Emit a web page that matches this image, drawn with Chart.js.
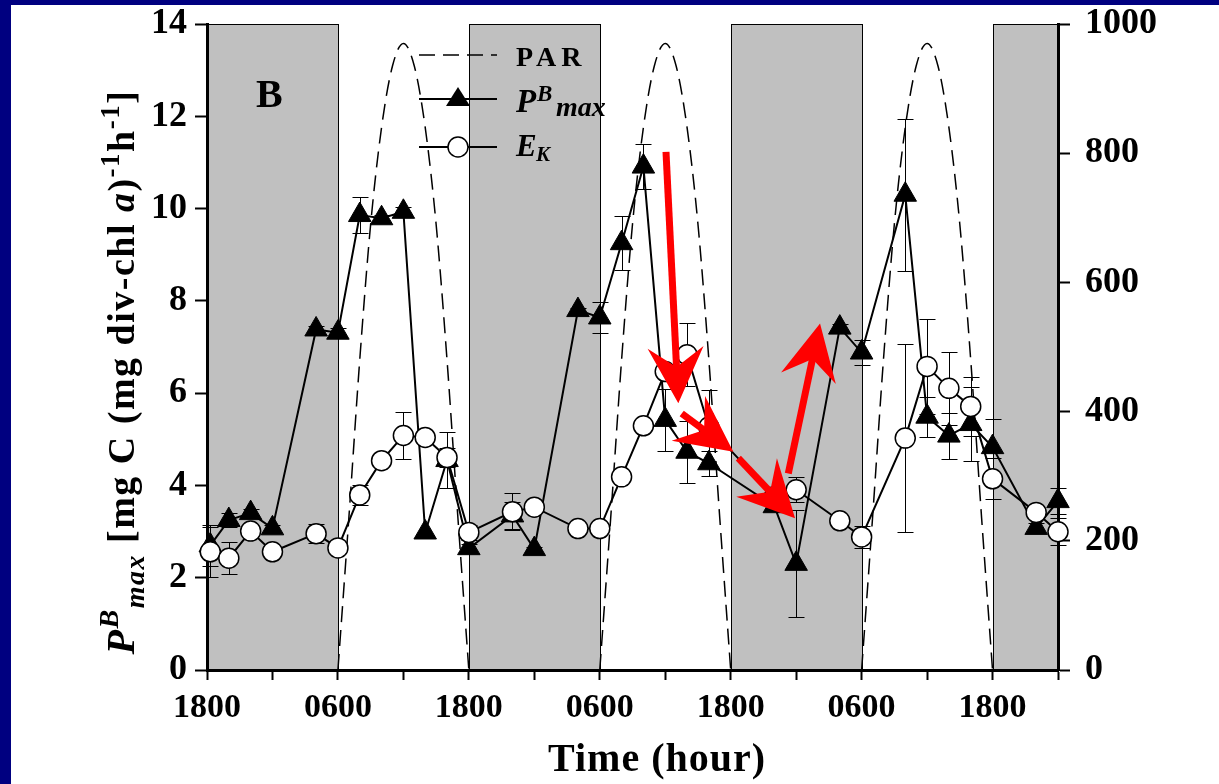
<!DOCTYPE html>
<html>
<head>
<meta charset="utf-8">
<script src="https://cdn.jsdelivr.net/npm/chart.js@4.4.0/dist/chart.umd.min.js"></script>
<style>
  html, body { margin: 0; padding: 0; background: #fff; }
  #wrap { position: relative; width: 1219px; height: 784px; overflow: hidden; background: #fff; }
  #wrap canvas { position: absolute; left: 0; top: 0; }
  .navy { position: absolute; background: #000080; }
</style>
</head>
<body>
<div id="wrap">
  <canvas id="chart" width="1219" height="784"></canvas>
  <div class="navy" style="left:0;top:0;width:11px;height:784px"></div>
  <div class="navy" style="left:0;top:0;width:1219px;height:5px"></div>
</div>
<script>
const SERIF = '"Liberation Serif", "Times New Roman", serif';

// sampling times, hours after the first 1800
const sampleHours = [0.3, 2, 4, 6, 10, 12, 14, 16, 18, 20, 22, 24, 28, 30, 34, 36, 38, 40, 42, 44, 46, 52, 54, 58, 60, 64, 66, 68, 70, 72, 76, 78];
// P^B_max, mg C (mg div-chl a)^-1 h^-1 (left axis)
const pbMax    = [2.70, 3.25, 3.40, 3.07, 7.38, 7.31, 9.86, 9.79, 9.93, 2.98, 4.55, 2.64, 3.35, 2.62, 7.80, 7.64, 9.25, 10.91, 5.42, 4.73, 4.48, 3.55, 2.30, 7.42, 6.88, 10.30, 5.49, 5.08, 5.33, 4.83, 3.08, 3.66];
const pbMaxErr = [0.45, 0.15, 0.10, 0.08, 0.08, 0.10, 0.40, 0.08, 0.10, 0, 0.60, 0.10, 0.30, 0.05, 0.05, 0.33, 0.58, 0.48, 0.68, 0.67, 0.27, 0.10, 1.16, 0.08, 0.28, 1.65, 0.43, 0.50, 0.80, 0.60, 0.10, 0.28];
// E_K (right axis)
const ekValues = [183, 173, 215, 183, 211, 189, 271, 324, 363, 360, 329, 213, 245, 252, 219, 219, 299, 378, 462, 488, 376, 268, 279, 231, 206, 359, 470, 436, 408, 296, 244, 214];
const ekErr    = [39, 25, 0, 0, 15, 0, 16, 0, 37, 0, 14, 11, 29, 0, 0, 0, 0, 0, 0, 49, 58, 0, 19, 0, 17, 146, 73, 56, 46, 32, 0, 21];

// PAR during daylight (right axis)
const parHours  = [12, 13, 14, 15, 16, 17, 18, 19, 20, 21, 22, 23, 24,
                   36, 37, 38, 39, 40, 41, 42, 43, 44, 45, 46, 47, 48,
                   60, 61, 62, 63, 64, 65, 66, 67, 68, 69, 70, 71, 72];
const parValues = [0, 235, 480, 690, 840, 935, 970, 935, 840, 690, 480, 235, 0,
                   0, 235, 480, 690, 840, 935, 970, 935, 840, 690, 480, 235, 0,
                   0, 235, 480, 690, 840, 935, 970, 935, 840, 690, 480, 235, 0];

// dark periods
const nightStart = [0, 24, 48, 72];
const nightEnd   = [12, 36, 60, 78];

const xTickLabels = ['1800', '0600', '1800', '0600', '1800', '0600', '1800'];

// red annotation arrows, [hour, left-axis value]
const arrowFrom = [[42.07, 11.23], [43.51, 5.56], [48.70, 4.59], [53.28, 4.26]];
const arrowTo   = [[43.20, 5.78], [48.24, 4.73], [53.90, 3.29], [56.19, 7.51]];

const yTitleParts = [
  { t: 'P', size: 40, style: 'italic', dy: 0 },
  { t: 'B', size: 28, style: 'italic', dy: -16 },
  { t: 'max', size: 28, style: 'italic', dy: 10 },
  { t: ' [mg C (mg div-chl ', size: 38, style: '', dy: 0 },
  { t: 'a', size: 38, style: 'italic', dy: 0 },
  { t: ')', size: 38, style: '', dy: 0 },
  { t: '-1', size: 27, style: '', dy: -15 },
  { t: 'h', size: 38, style: '', dy: 0 },
  { t: '-1', size: 27, style: '', dy: -15 },
  { t: ']', size: 38, style: '', dy: 0 }
];

function pts(xs, ys) {
  const out = [];
  xs.forEach((h, i) => {
    if (i > 0 && h - xs[i - 1] > 1) out.push({ x: (h + xs[i - 1]) / 2, y: null });
    out.push({ x: h, y: ys[i] });
  });
  return out;
}

function drawRich(ctx, parts, x, y) {
  let total = 0;
  parts.forEach(p => {
    ctx.font = `${p.style} bold ${p.size}px ${SERIF}`;
    p.w = ctx.measureText(p.t).width;
    total += p.w;
  });
  let cx = x - total / 2;
  parts.forEach(p => {
    ctx.font = `${p.style} bold ${p.size}px ${SERIF}`;
    ctx.fillText(p.t, cx, y + p.dy);
    cx += p.w;
  });
}

const backdrop = {
  id: 'backdrop',
  beforeDraw(chart) {
    const { ctx, chartArea: a, scales: { x } } = chart;
    ctx.save();
    nightStart.forEach((h, i) => {
      const x0 = Math.round(x.getPixelForValue(h));
      const x1 = Math.round(x.getPixelForValue(nightEnd[i]));
      ctx.fillStyle = '#c0c0c0';
      ctx.fillRect(x0, a.top, x1 - x0, a.bottom - a.top);
      ctx.strokeStyle = '#000';
      ctx.lineWidth = 1;
      ctx.strokeRect(x0 + 0.5, Math.round(a.top) + 0.5, x1 - x0, Math.round(a.bottom - a.top));
    });
    ctx.restore();
  }
};

const errorBars = {
  id: 'errorBars',
  beforeDatasetsDraw(chart) {
    const { ctx, scales } = chart;
    ctx.save();
    ctx.strokeStyle = '#000';
    ctx.lineWidth = 1;
    const draw = (vals, errs, ys) => {
      sampleHours.forEach((h, i) => {
        if (!errs[i]) return;
        const px = Math.round(scales.x.getPixelForValue(h)) + 0.5;
        const top = Math.round(ys.getPixelForValue(vals[i] + errs[i])) + 0.5;
        const bot = Math.round(ys.getPixelForValue(vals[i] - errs[i])) + 0.5;
        ctx.beginPath();
        ctx.moveTo(px, top); ctx.lineTo(px, bot);
        ctx.moveTo(px - 8, top); ctx.lineTo(px + 8, top);
        ctx.moveTo(px - 8, bot); ctx.lineTo(px + 8, bot);
        ctx.stroke();
      });
    };
    draw(pbMax, pbMaxErr, scales.y);
    draw(ekValues, ekErr, scales.y1);
    ctx.restore();
  }
};

const arrows = {
  id: 'arrows',
  afterDatasetsDraw(chart) {
    const { ctx, scales: { x, y } } = chart;
    ctx.save();
    ctx.fillStyle = '#ff0000';
    ctx.strokeStyle = '#ff0000';
    arrowFrom.forEach((f, i) => {
      const x0 = x.getPixelForValue(f[0]), y0 = y.getPixelForValue(f[1]);
      const x1 = x.getPixelForValue(arrowTo[i][0]), y1 = y.getPixelForValue(arrowTo[i][1]);
      const len = Math.hypot(x1 - x0, y1 - y0);
      const ux = (x1 - x0) / len, uy = (y1 - y0) / len;
      const L = 56, W = 28;
      ctx.lineWidth = 7;
      ctx.beginPath();
      ctx.moveTo(x0, y0);
      ctx.lineTo(x1 - ux * L * 0.6, y1 - uy * L * 0.6);
      ctx.stroke();
      const bx = x1 - ux * L, by = y1 - uy * L;
      const nx = x1 - ux * L * 0.65, ny = y1 - uy * L * 0.65;
      ctx.beginPath();
      ctx.moveTo(x1, y1);
      ctx.lineTo(bx - uy * W, by + ux * W);
      ctx.lineTo(nx, ny);
      ctx.lineTo(bx + uy * W, by - ux * W);
      ctx.closePath();
      ctx.fill();
    });
    ctx.restore();
  }
};

const annotations = {
  id: 'annotations',
  afterDraw(chart) {
    const { ctx, chartArea: a } = chart;
    ctx.save();
    ctx.fillStyle = '#000';
    ctx.strokeStyle = '#000';
    ctx.textBaseline = 'alphabetic';

    // panel letter
    ctx.font = `bold 40px ${SERIF}`;
    ctx.fillText('B', a.left + 49, 107);

    // legend
    const lx0 = a.left + 212, lx1 = a.left + 290, mx = a.left + 251, tx = a.left + 309;
    ctx.lineWidth = 1.5;
    ctx.setLineDash([16, 8]);
    ctx.beginPath(); ctx.moveTo(lx0, 55); ctx.lineTo(lx1, 55); ctx.stroke();
    ctx.setLineDash([]);
    ctx.font = `bold 28px ${SERIF}`;
    ctx.letterSpacing = '5px';
    ctx.fillText('PAR', tx, 66);
    ctx.letterSpacing = '0px';

    ctx.lineWidth = 2;
    ctx.beginPath(); ctx.moveTo(lx0, 99); ctx.lineTo(lx1, 99); ctx.stroke();
    ctx.beginPath();
    ctx.moveTo(mx, 87); ctx.lineTo(mx + 12, 106); ctx.lineTo(mx - 12, 106); ctx.closePath();
    ctx.fill();
    ctx.font = `italic bold 33px ${SERIF}`;
    ctx.fillText('P', tx, 112);
    ctx.font = `italic bold 23px ${SERIF}`;
    ctx.fillText('B', tx + 21, 101);
    ctx.font = `italic bold 28px ${SERIF}`;
    ctx.fillText('max', tx + 40, 116);

    ctx.beginPath(); ctx.moveTo(lx0, 147); ctx.lineTo(lx1, 147); ctx.stroke();
    ctx.beginPath(); ctx.arc(mx, 147, 10, 0, Math.PI * 2);
    ctx.fillStyle = '#fff'; ctx.fill();
    ctx.lineWidth = 1.5; ctx.stroke();
    ctx.fillStyle = '#000';
    ctx.font = `italic bold 31px ${SERIF}`;
    ctx.fillText('E', tx, 156);
    ctx.font = `italic bold 21px ${SERIF}`;
    ctx.fillText('K', tx + 20, 161);

    // x title
    ctx.font = `bold 40px ${SERIF}`;
    ctx.textAlign = 'center';
    ctx.letterSpacing = '1px';
    ctx.fillText('Time (hour)', 657, 771);
    ctx.letterSpacing = '0px';
    ctx.textAlign = 'left';

    // y title
    ctx.translate(134, 372);
    ctx.rotate(-Math.PI / 2);
    ctx.letterSpacing = '1.5px';
    drawRich(ctx, yTitleParts, 0, 0);
    ctx.restore();
  }
};

const tickFont = { family: SERIF, size: 36, weight: 'bold', lineHeight: 0.5 };

new Chart(document.getElementById('chart'), {
  type: 'line',
  data: {
    datasets: [
      {
        label: 'PAR',
        data: pts(parHours, parValues),
        yAxisID: 'y1',
        borderColor: '#000',
        borderWidth: 1.5,
        borderDash: [16, 8],
        pointRadius: 0,
        cubicInterpolationMode: 'monotone',
        spanGaps: false,
        clip: false,
        order: 3
      },
      {
        label: 'PBmax',
        data: sampleHours.map((h, i) => ({ x: h, y: pbMax[i] })),
        yAxisID: 'y',
        borderColor: '#000',
        borderWidth: 2,
        pointStyle: 'triangle',
        pointRadius: 13,
        pointBackgroundColor: '#000',
        pointBorderColor: '#000',
        pointBorderWidth: 1,
        tension: 0,
        clip: false,
        order: 2
      },
      {
        label: 'EK',
        data: sampleHours.map((h, i) => ({ x: h, y: ekValues[i] })),
        yAxisID: 'y1',
        borderColor: '#000',
        borderWidth: 2,
        pointStyle: 'circle',
        pointRadius: 10,
        pointBackgroundColor: '#fff',
        pointBorderColor: '#000',
        pointBorderWidth: 1.5,
        tension: 0,
        clip: false,
        order: 1
      }
    ]
  },
  options: {
    responsive: false,
    animation: false,
    events: [],
    layout: { padding: { top: 24, left: 0, right: 0, bottom: 0 } },
    plugins: { legend: { display: false }, tooltip: { enabled: false } },
    scales: {
      x: {
        type: 'linear',
        min: 0,
        max: 78,
        ticks: {
          stepSize: 6,
          autoSkip: false,
          maxRotation: 0,
          padding: 8,
          color: '#000',
          font: { family: SERIF, size: 34, weight: 'bold' },
          callback: v => (v % 12 === 0 ? xTickLabels[v / 12] : '')
        },
        grid: { drawOnChartArea: false, tickLength: 10, tickWidth: 2, tickColor: '#000' },
        border: { display: true, color: '#000', width: 3 },
        afterFit(s) { s.height = 114; }
      },
      y: {
        type: 'linear',
        position: 'left',
        min: 0,
        max: 14,
        ticks: { stepSize: 2, padding: 8, color: '#000', font: tickFont },
        grid: { drawOnChartArea: false, tickLength: 12, tickWidth: 2, tickColor: '#000' },
        border: { display: true, color: '#000', width: 3 },
        afterFit(s) { s.width = 207; }
      },
      y1: {
        type: 'linear',
        position: 'right',
        min: 0,
        max: 1000,
        ticks: { stepSize: 200, padding: 15, color: '#000', font: tickFont, callback: v => String(v) },
        grid: { drawOnChartArea: false, tickLength: 12, tickWidth: 2, tickColor: '#000' },
        border: { display: true, color: '#000', width: 3 },
        afterFit(s) { s.width = 161; }
      }
    }
  },
  plugins: [backdrop, errorBars, arrows, annotations]
});
</script>
</body>
</html>
